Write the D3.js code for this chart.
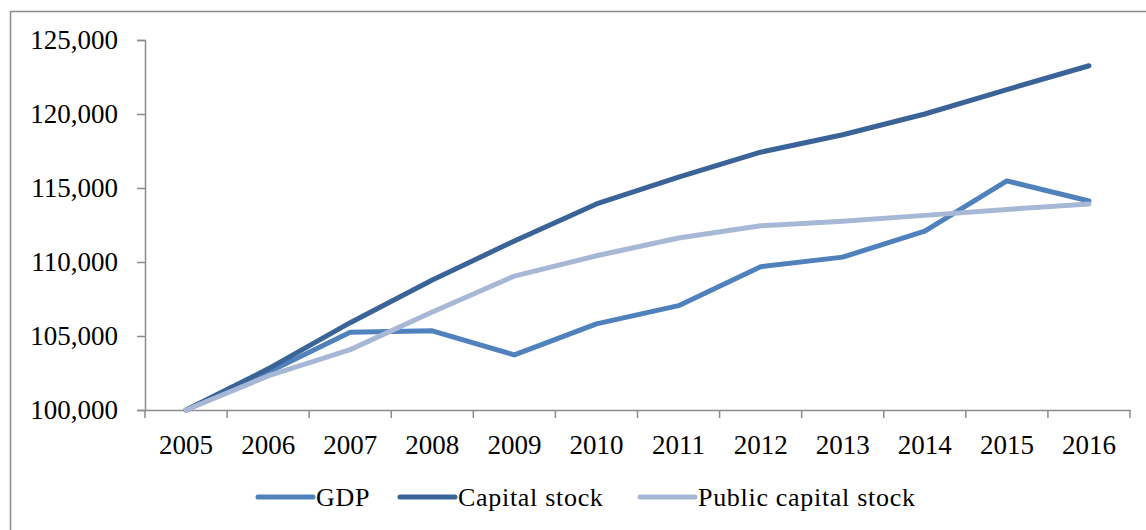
<!DOCTYPE html>
<html lang="en">
  <head>
    <meta charset="utf-8">
    <style>
      body { margin: 0; background: #fff; }
      svg text { font-family: "Liberation Serif", "DejaVu Serif", serif; fill: #000; }
      .axis path, .axis line { stroke: #8c8c8c; stroke-width: 1.5; }
      .tick text { font-size: 27px; }
      .legend text { font-size: 26px; letter-spacing: 0.7px; }
    </style>
  </head>
  <body>
    <svg id="chart" width="1146" height="530"></svg>

    <script src="https://cdn.jsdelivr.net/npm/d3@7"></script>
    <script>
      // data
      var years = ["2005", "2006", "2007", "2008", "2009", "2010", "2011", "2012", "2013", "2014", "2015", "2016"];
      var gdp = [100000, 102550, 105250, 105350, 103720, 105820, 107050, 109680, 110330, 112090, 115480, 114120];
      var capitalStock = [100000, 102780, 105900, 108780, 111420, 113920, 115740, 117420, 118600, 120000, 121650, 123260];
      var publicCapital = [100000, 102300, 104080, 106620, 109050, 110420, 111620, 112450, 112750, 113150, 113550, 113920];
      var yTicks = [100000, 105000, 110000, 115000, 120000, 125000];

      var series = [
        { name: "GDP", values: gdp, color: "#4f81bd" },
        { name: "Capital stock", values: capitalStock, color: "#3a6398" },
        { name: "Public capital stock", values: publicCapital, color: "#a7b8d6" }
      ];

      var svg = d3.select("#chart");

      // outer frame
      svg.append("rect")
        .attr("x", 10.5).attr("y", 11.5)
        .attr("width", 1160).attr("height", 540)
        .attr("fill", "none")
        .attr("stroke", "#8c8c8c")
        .attr("stroke-width", 1.5);

      var x = d3.scaleBand().domain(years).range([145, 1130]);
      var y = d3.scaleLinear().domain([100000, 125000]).range([410, 40]);

      var fmt = d3.format(",");

      svg.append("g")
        .attr("class", "axis")
        .attr("transform", "translate(145,0)")
        .call(d3.axisLeft(y).tickValues(yTicks).tickFormat(fmt).tickSize(8).tickPadding(19));

      var xAxis = d3.axisBottom(x).tickSize(0).tickPadding(25);
      var gx = svg.append("g")
        .attr("class", "axis")
        .attr("transform", "translate(0,410)")
        .call(xAxis);

      // category boundary ticks
      gx.selectAll(".edge")
        .data(d3.range(years.length + 1))
        .enter().append("line")
        .attr("class", "edge")
        .attr("x1", function(i) { return 145 + i * x.step(); })
        .attr("x2", function(i) { return 145 + i * x.step(); })
        .attr("y1", 0).attr("y2", 8);

      var line = d3.line()
        .x(function(d, i) { return x(years[i]) + x.bandwidth() / 2; })
        .y(function(d) { return y(d); });

      svg.selectAll(".series")
        .data(series)
        .enter().append("path")
        .attr("class", "series")
        .attr("d", function(s) { return line(s.values); })
        .attr("fill", "none")
        .attr("stroke", function(s) { return s.color; })
        .attr("stroke-width", 5)
        .attr("stroke-linejoin", "round")
        .attr("stroke-linecap", "round");

      // legend
      var legendX = [258, 400, 640];
      var lg = svg.append("g").attr("class", "legend")
        .selectAll("g")
        .data(series)
        .enter().append("g")
        .attr("transform", function(d, i) { return "translate(" + legendX[i] + ",497)"; });

      lg.append("line")
        .attr("x1", 0).attr("x2", 55)
        .attr("stroke", function(d) { return d.color; })
        .attr("stroke-width", 5)
        .attr("stroke-linecap", "round");

      lg.append("text")
        .attr("x", 58)
        .attr("y", 9)
        .text(function(d) { return d.name; });
    </script>
  </body>
</html>
